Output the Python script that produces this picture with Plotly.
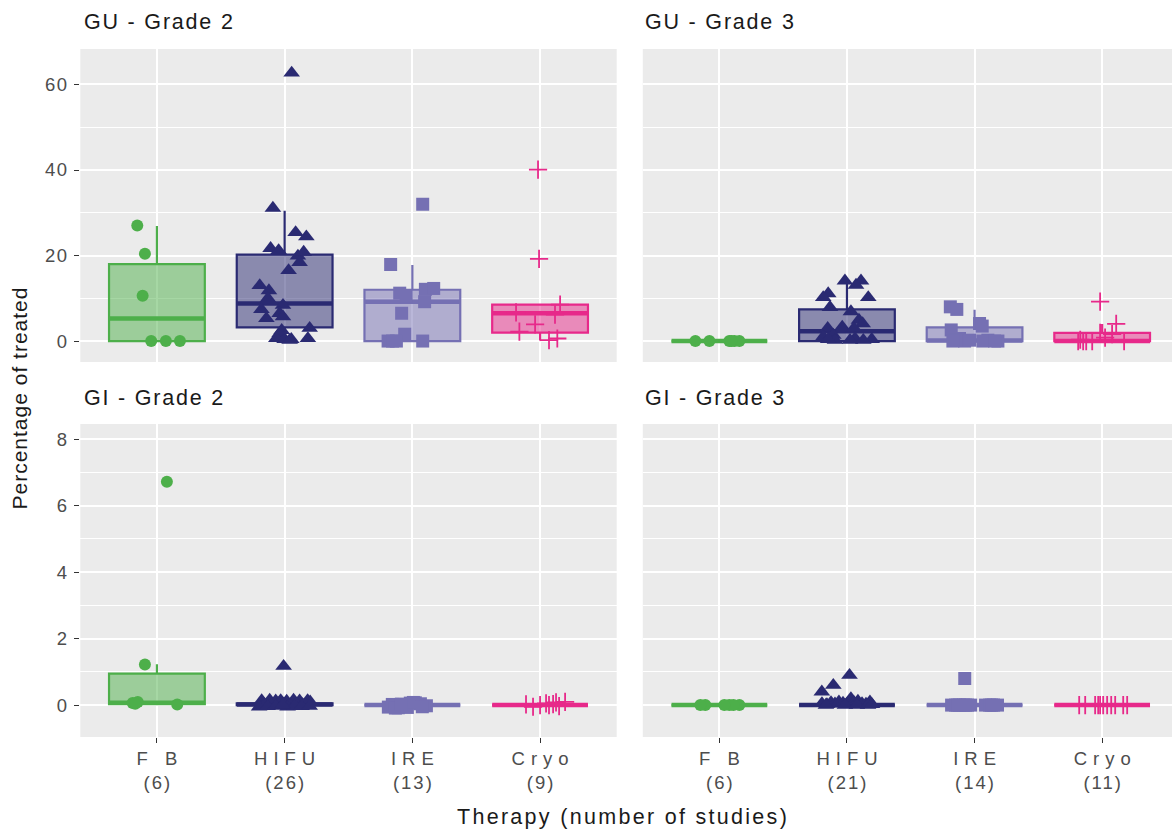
import plotly.graph_objects as go

# ---------------- data ----------------
therapies = ["F B", "HIFU", "IRE", "Cryo"]
studies_grade2 = [6, 26, 13, 9]
studies_grade3 = [6, 21, 14, 11]
panel_titles = ["GU - Grade 2", "GU - Grade 3", "GI - Grade 2", "GI - Grade 3"]
gu_ticks = [0, 20, 40, 60]
gu_minor = [10, 30, 50]
gi_ticks = [0, 2, 4, 6, 8]
gi_minor = [1, 3, 5, 7]

# GU - Grade 2 : values (% of treated) and horizontal jitter
gu2_fb_y = [27.0, 20.4, 10.6, 0, 0, 0]
gu2_fb_dx = [-0.154, -0.094, -0.112, -0.045, 0.070, 0.180]
gu2_hifu_y = [62.7, 31.1, 25.4, 24.4, 21.7, 21.2, 19.9, 20.8, 18.4, 16.5, 13.0, 11.8, 10.0,
              8.4, 7.4, 6.5, 5.3, 5.7, 3.0, 1.8, 0.6, 0.4, 0.4, 0.6, 2.5, 0.2]
gu2_hifu_dx = [0.055, -0.092, 0.086, 0.170, -0.110, -0.047, 0.104, 0.149, 0.117, 0.031, -0.195,
               -0.123, -0.131, -0.013, -0.182, -0.039, -0.143, -0.013, 0.196, -0.039, -0.065,
               0.000, 0.052, 0.182, -0.023, 0.039]
gu2_ire_y = [32.0, 17.9, 11.2, 10.5, 12.1, 12.3, 9.2, 6.5, 1.6, 0, 0, 0, 0]
gu2_ire_dx = [0.081, -0.170, -0.099, -0.049, 0.102, 0.167, 0.096, -0.084, -0.060, -0.190,
              -0.125, 0.081, -0.155]
gu2_cryo_y = [40.1, 19.2, 8.5, 6.7, 6.2, 3.9, 2.2, 0.2, 0.6]
gu2_cryo_dx = [-0.016, -0.008, 0.157, -0.188, 0.117, -0.039, -0.162, 0.070, 0.135]
gu2_q1 = [0, 3.2, 0, 1.95]
gu2_med = [5.3, 8.8, 9.2, 6.5]
gu2_q3 = [18.0, 20.2, 12.0, 8.5]
gu2_lo = [0, 0.2, 0, 0.15]
gu2_hi = [26.9, 30.5, 17.8, 8.6]

# GU - Grade 3
gu3_fb_y = [0, 0, 0, 0, 0, 0]
gu3_fb_dx = [-0.188, -0.078, 0.078, 0.118, 0.157, 0.094]
gu3_hifu_y = [14.1, 14.1, 13.1, 11.1, 10.2, 10.2, 7.9, 6.9, 4.9, 4.1, 3.3, 3.0, 3.0, 1.4, 1.0,
              0.6, 0.2, 0.4, 0.2, 0.2, 0.4]
gu3_hifu_dx = [-0.016, 0.110, 0.071, -0.147, -0.186, 0.167, -0.133, 0.031, 0.094, 0.123, -0.037,
               -0.151, 0.055, -0.107, -0.186, 0.063, -0.094, 0.194, 0.128, 0.024, -0.147]
gu3_ire_y = [8.0, 7.4, 4.1, 3.5, 2.6, 0.6, 0, 0.2, 0, 0.2, 0, 0, 0.2, 0]
gu3_ire_dx = [-0.190, -0.139, 0.039, 0.060, -0.183, -0.118, -0.078, 0.104, 0.183, -0.143, 0.065,
              0.157, -0.039, -0.170]
gu3_cryo_y = [9.2, 4.0, 1.9, 0, 0, 0, 0, 0.3, 0.8, 1.6, 0]
gu3_cryo_dx = [-0.016, 0.110, -0.016, -0.188, -0.125, -0.078, 0.172, -0.172, 0.023, 0.078, -0.149]
gu3_q1 = [0, 0, 0, 0]
gu3_med = [0, 2.3, 0.1, 0]
gu3_q3 = [0, 7.4, 3.2, 1.9]
gu3_lo = [0, 0, 0, 0]
gu3_hi = [0, 13.6, 7.3, 4.0]

# GI - Grade 2
gi2_fb_y = [6.72, 1.22, 0.06, 0.09, 0.02, 0.04]
gi2_fb_dx = [0.078, -0.094, -0.190, -0.150, 0.159, -0.170]
gi2_hifu_y = [1.17, 0.14, 0.15, 0.13, 0.14, 0.12, 0.15, 0.13, 0.14, 0.10, 0.02, 0.0, 0.05, 0.03,
              0.0, 0.04, 0.02, 0.0, -0.05, -0.04, -0.03, -0.05, -0.02, -0.04, -0.03, 0.0]
gi2_hifu_dx = [-0.008, -0.180, -0.117, -0.070, -0.031, 0.016, 0.070, 0.117, 0.180, 0.200, -0.157,
               -0.102, -0.047, -0.008, 0.039, 0.094, 0.141, 0.164, -0.200, -0.133, -0.070, 0.023,
               0.078, 0.133, 0.196, -0.016]
gi2_ire_y = [-0.06, 0.02, -0.08, 0.0, 0.06, 0.07, 0.04, -0.02, -0.09, -0.07, 0.08, -0.05, 0.03]
gi2_ire_dx = [-0.188, -0.157, -0.110, -0.063, -0.016, 0.023, 0.063, 0.110, -0.133, -0.039, 0.008,
              0.078, -0.086]
gi2_cryo_y = [0.02, -0.05, 0.05, 0.0, 0.08, -0.03, 0.10, 0.0, 0.03]
gi2_cryo_dx = [-0.110, -0.055, 0.047, 0.070, 0.125, 0.149, 0.196, 0.0, 0.102]
gi2_q1 = [0.03, 0, 0, 0]
gi2_med = [0.07, 0.02, 0, 0]
gi2_q3 = [0.95, 0.05, 0, 0]
gi2_lo = [0, 0, 0, 0]
gi2_hi = [1.23, 0.1, 0, 0]

# GI - Grade 3
gi3_fb_y = [0, 0, 0, 0, 0, 0]
gi3_fb_dx = [-0.110, 0.078, 0.157, -0.149, 0.110, 0.039]
gi3_hifu_y = [0.9, 0.6, 0.4, 0.05, 0.02, 0.08, 0.04, 0.10, 0.06, 0.03, 0.20, 0.08, 0.12, 0.05,
              0.03, 0.10, 0.0, 0.0, 0.0, 0.0, 0.02]
gi3_hifu_dx = [0.020, -0.107, -0.197, -0.196, -0.157, -0.125, -0.094, -0.063, -0.031, 0.0, 0.031,
               0.055, 0.086, 0.118, 0.149, 0.180, -0.165, -0.016, 0.078, 0.165, 0.196]
gi3_ire_y = [0.8, 0, 0, 0, 0, 0, 0, 0, 0, 0, 0, 0, 0, 0]
gi3_ire_dx = [-0.077, -0.180, -0.149, -0.118, -0.086, -0.055, -0.031, 0.086, 0.118, 0.149, 0.180,
              -0.133, -0.071, 0.133]
gi3_cryo_y = [0, 0, 0, 0, 0, 0, 0, 0, 0, 0, 0]
gi3_cryo_dx = [-0.180, -0.055, -0.031, -0.016, 0.039, 0.102, 0.165, 0.196, -0.133, 0.008, 0.071]
gi3_q1 = [0, 0, 0, 0]
gi3_med = [0, 0, 0, 0]
gi3_q3 = [0, 0, 0, 0]
gi3_lo = [0, 0, 0, 0]
gi3_hi = [0, 0, 0, 0]

# ---------------- styles ----------------
colors = ["#4DAF4A", "#2A2A72", "#7570B3", "#E7298A"]
fills = ["rgba(77,175,74,0.5)", "rgba(42,42,114,0.5)", "rgba(117,112,179,0.5)", "rgba(231,41,138,0.5)"]
symbols = ["circle", "triangle-up", "square", "cross-thin"]
msizes = [12, 14.5, 13, 13]
FONT = "Liberation Sans, Arial, sans-serif"
BOX_W = 0.75

panels = [
    ("x", "y", [gu2_fb_y, gu2_hifu_y, gu2_ire_y, gu2_cryo_y],
     [gu2_fb_dx, gu2_hifu_dx, gu2_ire_dx, gu2_cryo_dx], (gu2_q1, gu2_med, gu2_q3, gu2_lo, gu2_hi)),
    ("x2", "y2", [gu3_fb_y, gu3_hifu_y, gu3_ire_y, gu3_cryo_y],
     [gu3_fb_dx, gu3_hifu_dx, gu3_ire_dx, gu3_cryo_dx], (gu3_q1, gu3_med, gu3_q3, gu3_lo, gu3_hi)),
    ("x3", "y3", [gi2_fb_y, gi2_hifu_y, gi2_ire_y, gi2_cryo_y],
     [gi2_fb_dx, gi2_hifu_dx, gi2_ire_dx, gi2_cryo_dx], (gi2_q1, gi2_med, gi2_q3, gi2_lo, gi2_hi)),
    ("x4", "y4", [gi3_fb_y, gi3_hifu_y, gi3_ire_y, gi3_cryo_y],
     [gi3_fb_dx, gi3_hifu_dx, gi3_ire_dx, gi3_cryo_dx], (gi3_q1, gi3_med, gi3_q3, gi3_lo, gi3_hi)),
]

fig = go.Figure()
for xa, ya, ys, dxs, (q1, med, q3, lo, hi) in panels:
    for k in range(len(therapies)):
        pos = k + 1
        fig.add_trace(go.Box(
            x=[pos], q1=[q1[k]], median=[med[k]], q3=[q3[k]],
            lowerfence=[lo[k]], upperfence=[hi[k]],
            width=BOX_W, whiskerwidth=0, boxpoints=False,
            fillcolor=fills[k], line=dict(color=colors[k], width=2.2),
            xaxis=xa, yaxis=ya, showlegend=False, hoverinfo="skip"))
        fig.add_trace(go.Scatter(
            x=[pos - BOX_W / 2, pos + BOX_W / 2], y=[med[k], med[k]], mode="lines",
            line=dict(color=colors[k], width=4.5), xaxis=xa, yaxis=ya,
            showlegend=False, hoverinfo="skip"))
        if symbols[k] == "cross-thin":
            mk = dict(symbol="cross-thin", size=msizes[k], color=colors[k],
                      line=dict(color=colors[k], width=1.8))
        else:
            mk = dict(symbol=symbols[k], size=msizes[k], color=colors[k], line=dict(width=0))
        fig.add_trace(go.Scatter(
            x=[pos + d for d in dxs[k]], y=ys[k], mode="markers", marker=mk,
            xaxis=xa, yaxis=ya, showlegend=False, hoverinfo="skip"))

W, H = 1172, 830
xl = [80.3 / W, 616.7 / W]
xr = [642.8 / W, 1.0]
yt = [1 - 362 / H, 1 - 49 / H]
yb = [1 - 737 / H, 1 - 424 / H]
x_range_l = [0.4, 4.6]
x_range_r = [0.4, 0.4 + (W - 642.8) / 127.6]
gu_range = [-4.9, 68.3]
gi_range = [-0.96, 8.46]

labels2 = [f"{t}<br>({n})" for t, n in zip(therapies, studies_grade2)]
labels3 = [f"{t}<br>({n})" for t, n in zip(therapies, studies_grade3)]


def xax(domain, rng, anchor, labels):
    d = dict(domain=domain, range=rng, anchor=anchor, tickmode="array", tickvals=[1, 2, 3, 4],
             showgrid=True, gridcolor="white", gridwidth=2.1, zeroline=False, showline=False,
             fixedrange=True)
    if labels:
        d.update(ticktext=labels, ticks="outside", ticklen=5, tickwidth=1.1, tickcolor="#333333",
                 tickfont=dict(size=18.5, color="#4D4D4D", family=FONT))
    else:
        d.update(showticklabels=False, ticks="")
    return d


def yax(domain, rng, anchor, tickvals, minor_vals, labels):
    d = dict(domain=domain, range=rng, anchor=anchor, tickmode="array", tickvals=tickvals,
             showgrid=True, gridcolor="white", gridwidth=2.1, zeroline=False, showline=False,
             fixedrange=True,
             minor=dict(tickmode="array", tickvals=minor_vals, showgrid=True, gridcolor="white",
                        gridwidth=1, ticks=""))
    if labels:
        d.update(ticks="outside", ticklen=5, tickwidth=1.1, tickcolor="#333333",
                 ticklabelstandoff=2,
                 tickfont=dict(size=18.5, color="#4D4D4D", family=FONT))
    else:
        d.update(showticklabels=False, ticks="")
    return d


fig.update_layout(
    width=W, height=H, margin=dict(l=0, r=0, t=0, b=0),
    paper_bgcolor="white", plot_bgcolor="#EBEBEB",
    font=dict(family=FONT, color="#1A1A1A"),
    boxmode="overlay", showlegend=False,
    xaxis=xax(xl, x_range_l, "y", None),
    xaxis2=xax(xr, x_range_r, "y2", None),
    xaxis3=xax(xl, x_range_l, "y3", labels2),
    xaxis4=xax(xr, x_range_r, "y4", labels3),
    yaxis=yax(yt, gu_range, "x", gu_ticks, gu_minor, True),
    yaxis2=yax(yt, gu_range, "x2", gu_ticks, gu_minor, False),
    yaxis3=yax(yb, gi_range, "x3", gi_ticks, gi_minor, True),
    yaxis4=yax(yb, gi_range, "x4", gi_ticks, gi_minor, False),
)

strip_pos = [(82 / W, 1 - 22 / H), (xr[0], 1 - 22 / H), (82 / W, 1 - 398 / H), (xr[0], 1 - 398 / H)]
for title, (px, py) in zip(panel_titles, strip_pos):
    fig.add_annotation(text=title, x=px, y=py, xref="paper", yref="paper",
                       xanchor="left", yanchor="middle", align="left", showarrow=False,
                       font=dict(size=21.5, color="#1A1A1A", family=FONT))

fig.add_annotation(text="Therapy (number of studies)", x=623 / W, y=1 - 817 / H,
                   xref="paper", yref="paper", xanchor="center", yanchor="middle",
                   showarrow=False, font=dict(size=21.5, color="#1A1A1A", family=FONT))
fig.add_annotation(text="Percentage of treated", x=20 / W, y=1 - 398 / H,
                   xref="paper", yref="paper", xanchor="center", yanchor="middle",
                   textangle=-90, showarrow=False,
                   font=dict(size=21, color="#1A1A1A", family=FONT))

# page margin removal and the loose letter tracking seen in the reference text
post = """
document.body.style.margin = '0px';
var gd = document.getElementById('{plot_id}');
gd.querySelectorAll('.xaxislayer-above text').forEach(function (t) {
  var ts = t.getElementsByTagName('tspan');
  if (ts.length >= 2) {
    ts[0].style.letterSpacing = '6px';
    ts[0].setAttribute('dx', '3');
    ts[1].style.letterSpacing = '2px';
    ts[1].setAttribute('dx', '1');
  } else {
    t.style.letterSpacing = '4px';
  }
});
gd.querySelectorAll('.yaxislayer-above text').forEach(function (t) { t.style.letterSpacing = '1.5px'; });
var ann = gd.querySelectorAll('.annotation-text');
var sp = ['1.8px', '1.8px', '1.8px', '1.8px', '2.3px', '1px'];
ann.forEach(function (e, i) { e.style.letterSpacing = sp[i] || '0px'; });
"""

fig.write_html("out.html", post_script=post, config={"displayModeBar": False})
